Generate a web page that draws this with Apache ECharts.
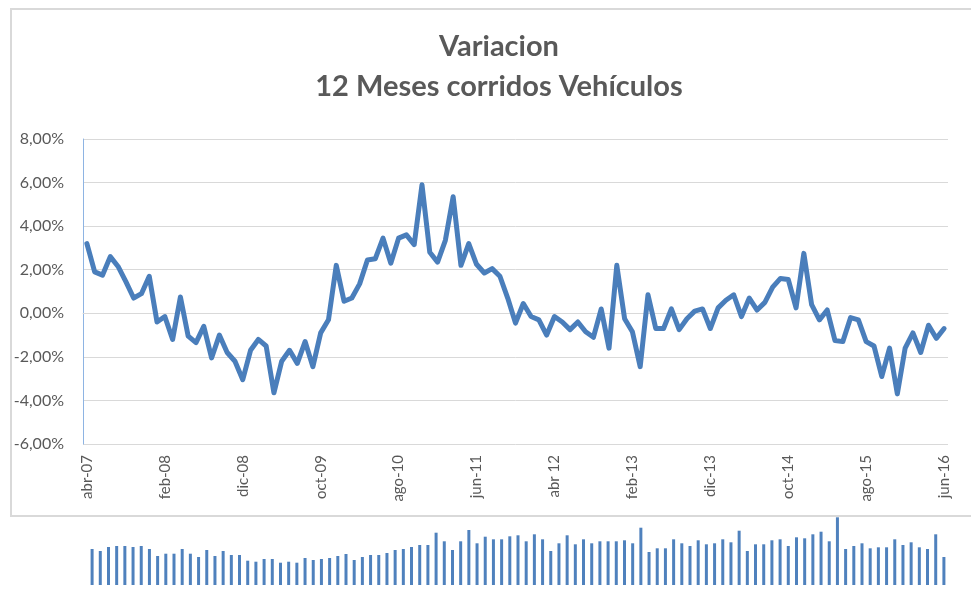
<!DOCTYPE html>
<html>
<head>
<meta charset="utf-8">
<script src="https://cdn.jsdelivr.net/npm/echarts@6/dist/echarts.min.js"></script>
<style>
  html, body { margin: 0; padding: 0; background: #fff; }
  #chart { width: 971px; height: 592px; }
</style>
</head>
<body>
<div id="chart"></div>
<script>
// meses, abr-07 .. jun-16
var months = [
  'abr-07','may-07','jun-07','jul-07','ago-07','sep-07','oct-07','nov-07','dic-07',
  'ene-08','feb-08','mar-08','abr-08','may-08','jun-08','jul-08','ago-08','sep-08','oct-08','nov-08','dic-08',
  'ene-09','feb-09','mar-09','abr-09','may-09','jun-09','jul-09','ago-09','sep-09','oct-09','nov-09','dic-09',
  'ene-10','feb-10','mar-10','abr-10','may-10','jun-10','jul-10','ago-10','sep-10','oct-10','nov-10','dic-10',
  'ene-11','feb-11','mar-11','abr-11','may-11','jun-11','jul-11','ago-11','sep-11','oct-11','nov-11','dic-11',
  'ene-12','feb-12','mar-12','abr 12','may-12','jun-12','jul-12','ago-12','sep-12','oct-12','nov-12','dic-12',
  'ene-13','feb-13','mar-13','abr-13','may-13','jun-13','jul-13','ago-13','sep-13','oct-13','nov-13','dic-13',
  'ene-14','feb-14','mar-14','abr-14','may-14','jun-14','jul-14','ago-14','sep-14','oct-14','nov-14','dic-14',
  'ene-15','feb-15','mar-15','abr-15','may-15','jun-15','jul-15','ago-15','sep-15','oct-15','nov-15','dic-15',
  'ene-16','feb-16','mar-16','abr-16','may-16','jun-16'
];

// variacion 12 meses corridos (%)
var variacion = [
  3.2, 1.9, 1.75, 2.6, 2.15, 1.45, 0.7, 0.9, 1.7, -0.4,
  -0.15, -1.2, 0.75, -1.05, -1.35, -0.6, -2.05, -1.0, -1.8, -2.2,
  -3.05, -1.7, -1.2, -1.5, -3.65, -2.2, -1.7, -2.3, -1.3, -2.45,
  -0.9, -0.3, 2.2, 0.55, 0.7, 1.35, 2.45, 2.5, 3.45, 2.3,
  3.45, 3.6, 3.15, 5.9, 2.8, 2.35, 3.35, 5.35, 2.2, 3.2,
  2.25, 1.85, 2.05, 1.7, 0.7, -0.45, 0.45, -0.15, -0.3, -1.0,
  -0.15, -0.4, -0.75, -0.4, -0.85, -1.1, 0.2, -1.6, 2.2, -0.25,
  -0.85, -2.45, 0.85, -0.7, -0.7, 0.2, -0.75, -0.25, 0.1, 0.2,
  -0.7, 0.25, 0.6, 0.85, -0.15, 0.7, 0.15, 0.5, 1.2, 1.6,
  1.55, 0.25, 2.75, 0.4, -0.3, 0.15, -1.25, -1.3, -0.2, -0.3,
  -1.3, -1.5, -2.9, -1.6, -3.7, -1.6, -0.9, -1.8, -0.55, -1.15,
  -0.7
];

// barras del grafico de abajo (cortado)
var barras = [
  36, 34, 38, 39, 39, 38, 39, 36, 29, 31.3,
  31.3, 36, 31.3, 28, 35, 29, 34, 30, 30, 24.3,
  23.3, 26, 26, 22.3, 23.3, 22.3, 27, 25, 26, 27,
  29, 31, 25, 28, 30, 30, 32, 35, 36, 38,
  40, 40, 52.3, 43.7, 35, 43.7, 55, 41.7, 48.3, 45.7,
  45.7, 48.7, 49.7, 43.7, 50.7, 45.7, 34, 41.7, 49.7, 40.7,
  45.7, 41.7, 43.7, 43.7, 43.7, 44.7, 41.7, 57.3, 33, 36.7,
  36.7, 45.7, 41.7, 39, 44.7, 40.7, 41.7, 45.7, 42.7, 54.3,
  34, 40.7, 40.7, 44.7, 45.7, 39, 47.7, 46.7, 50.7, 53.3,
  43.7, 67.7, 36, 39, 41.7, 36.7, 37.7, 37.7, 45.7, 40,
  42.7, 37.7, 36, 50.7, 28
];
var barCats = barras.map(function (v, i) { return i; });

var yTicks = { min: -6, max: 8, interval: 2 };

var chart = echarts.init(document.getElementById('chart'));

var option = {
  backgroundColor: '#fff',
  animation: false,
  title: {
    text: 'Variacion\n12 Meses corridos Vehículos',
    left: 494,
    top: 22,
    textAlign: 'center',
    textStyle: {
      fontFamily: 'Lato',
      fontWeight: 'bold',
      fontSize: 29,
      lineHeight: 40,
      color: '#595959'
    }
  },
  grid: [
    { left: 83, right: 23, top: 139, bottom: 148 },
    { left: 88, right: 23, top: 516, bottom: 7 }
  ],
  xAxis: [
    {
      type: 'category',
      gridIndex: 0,
      data: months,
      boundaryGap: true,
      axisLine: { show: true, lineStyle: { color: '#d9d9d9' } },
      axisTick: { show: false },
      axisLabel: {
        interval: 9,
        rotate: 90,
        margin: 11,
        color: '#595959',
        fontFamily: 'Lato',
        fontSize: 15
      }
    },
    {
      type: 'category',
      gridIndex: 1,
      data: barCats,
      axisLine: { show: false },
      axisTick: { show: false },
      axisLabel: { show: false }
    }
  ],
  yAxis: [
    {
      type: 'value',
      gridIndex: 0,
      min: yTicks.min,
      max: yTicks.max,
      interval: yTicks.interval,
      axisLine: { show: true, lineStyle: { color: '#8eb4e3', width: 1 } },
      axisTick: { show: false },
      splitLine: { lineStyle: { color: '#d9d9d9', width: 1 } },
      axisLabel: {
        margin: 19,
        color: '#595959',
        fontFamily: 'Lato',
        fontSize: 16,
        formatter: function (v) { return v.toFixed(2).replace('.', ',') + '%'; }
      }
    },
    {
      type: 'value',
      gridIndex: 1,
      min: 0,
      max: 69,
      show: false
    }
  ],
  series: [
    {
      type: 'bar',
      xAxisIndex: 1,
      yAxisIndex: 1,
      data: barras,
      barWidth: 3,
      itemStyle: { color: '#4f81bd' },
      silent: true
    },
    {
      type: 'line',
      xAxisIndex: 0,
      yAxisIndex: 0,
      data: variacion,
      symbol: 'none',
      lineStyle: { color: '#4a7ebb', width: 5, cap: 'round', join: 'round' }
    }
  ],
  graphic: [
    {
      type: 'rect',
      shape: { x: 11, y: 9, width: 990, height: 507 },
      style: { fill: 'none', stroke: '#d9d9d9', lineWidth: 2 },
      silent: true,
      z: 10
    }
  ]
};

chart.setOption(option);
</script>
</body>
</html>
